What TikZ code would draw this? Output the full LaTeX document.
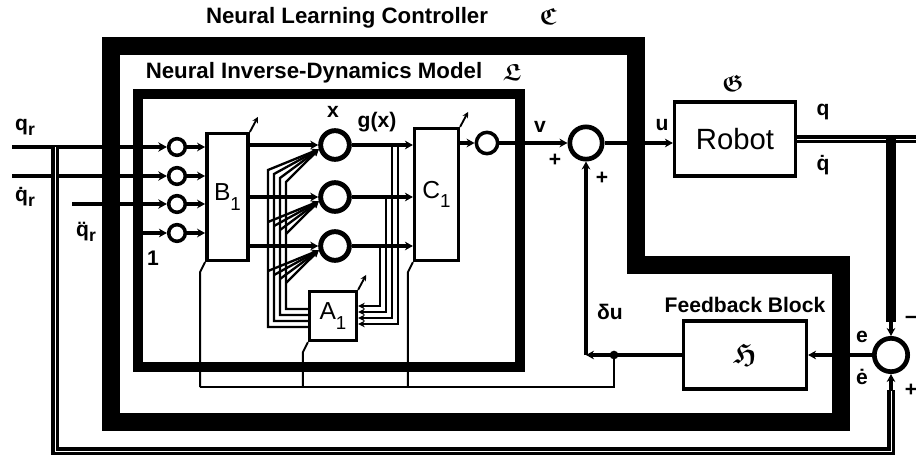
\documentclass[tikz,border=0pt]{standalone}
\usepackage{amsmath,amssymb}
\usepackage{fontspec}
\setmainfont{Liberation Sans}
\usetikzlibrary{arrows.meta,positioning,calc}
\tikzset{
  band/.style={line width=15.4pt, line join=miter},
  subband/.style={line width=8.5pt, line join=miter},
  blk/.style={rectangle, draw, line width=3pt, fill=white, inner sep=0pt},
  neuron/.style={circle, draw, line width=4.2pt, fill=white, minimum size=8.6mm, inner sep=0pt},
  unit/.style={circle, draw, line width=3pt, fill=white, minimum size=5mm, inner sep=0pt},
  sumjn/.style={circle, draw, line width=4pt, fill=white, minimum size=9.7mm, inner sep=0pt},
  sig/.style={line width=2.6pt, -{Stealth[length=2.4mm,width=2.6mm]}},
  inl/.style={line width=4pt, -{Stealth[length=2.6mm,width=2.8mm]}},
  wire/.style={line width=1.6pt},
  nest/.style={line width=2pt, -{Stealth[length=2mm,width=2mm]}},
  adapt/.style={line width=1.6pt, -{Stealth[length=1.8mm,width=1.8mm]}},
  bus/.style={line width=6pt, postaction={draw=white, line width=0.5pt}},
  fat/.style={line width=9pt},
  lbl/.style={font=\fontsize{18}{20}\selectfont\bfseries, inner sep=0pt},
  ttl/.style={font=\fontsize{19}{22}\selectfont\bfseries, inner sep=0pt},
  frk/.style={font=\fontsize{20}{22}\selectfont, inner sep=0pt},
  big/.style={font=\fontsize{21}{23}\selectfont}
}
\newcommand{\frk}[1]{$\boldsymbol{\mathfrak{#1}}$}
\newcommand{\lsub}[1]{\raisebox{-0.45ex}{\fontsize{15}{15}\selectfont\bfseries #1}}
\newcommand{\bsub}[1]{\raisebox{-0.7ex}{\fontsize{16}{16}\selectfont #1}}

\begin{document}
\begin{tikzpicture}[x=0.3mm, y=-0.3mm]
  \useasboundingbox (0,0) rectangle (916,463);

  % controller and model frames
  \draw[band] (111,46) -- (636,46) -- (636,265) -- (841,265) -- (841,422) -- (111,422) -- cycle;
  \draw[subband] (138,94) -- (520,94) -- (520,367) -- (138,367) -- cycle;
  \node[ttl] (nlc) at (347,18) {Neural Learning Controller};
  \node[frk] (cc) at (548,16) {\frk{C}};
  \node[ttl] (nidm) at (314,73) {Neural Inverse-Dynamics Model};
  \node[frk] (ll) at (512,72) {\frk{L}};

  % network
  \node[unit] (i1) at (177,147) {};
  \node[unit] (i2) at (177,176) {};
  \node[unit] (i3) at (177,204) {};
  \node[unit] (i4) at (177,233) {};
  \node[blk, big, minimum width=12.4mm, minimum height=38mm] (b1) at (227.5,197) {B\bsub{1}};
  \node[neuron] (n1) at (335,145) {};
  \node[neuron] (n2) at (335,197) {};
  \node[neuron] (n3) at (335,246) {};
  \node[blk, big, minimum width=13.1mm, minimum height=39.5mm] (c1) at (436.5,194.5) {C\bsub{1}};
  \node[blk, big, minimum width=14mm, minimum height=14.6mm] (a1) at (333,316) {A\bsub{1}};
  \node[unit, minimum size=6.4mm] (o1) at (487,143) {};

  % plant and feedback
  \node[sumjn] (sumv) at (586,143) {};
  \node[blk, font=\fontsize{25}{28}\selectfont, minimum width=36.2mm, minimum height=22.1mm] (robot) at (735,139) {Robot};
  \node[frk] (gg) at (733,83) {\frk{G}};
  \node[blk, minimum width=36.8mm, minimum height=20.3mm] (fb) at (745,355) {\fontsize{24}{26}\selectfont\frk{H}};
  \node[ttl, font=\fontsize{18}{20}\selectfont\bfseries] (fbl) at (745,305) {Feedback Block};
  \node[sumjn, minimum size=10mm] (sume) at (891,355) {};

  \coordinate (qr0) at (12,147);
  \coordinate (qdr0) at (12,176);
  \coordinate (qddr0) at (72,204);
  \coordinate (one0) at (143,233);
  \coordinate (tap) at (55,147);
  \coordinate (fbr) at (891,451);
  \coordinate (qtap) at (891,139);
  \coordinate (qend) at (916,139);

  % inputs into the model
  \draw[inl] (qr0) -- (i1);
  \draw[inl] (qdr0) -- (i2);
  \draw[inl] (qddr0) -- (i3);
  \draw[sig] (one0) -- (i4);
  \foreach \k in {1,...,4}
    \draw[sig] (i\k) -- (i\k -| b1.west);
  \foreach \k in {1,2,3} {
    \draw[sig] (b1.east |- n\k) -- (n\k);
    \draw[sig] (n\k) -- (n\k -| c1.west);
  }

  % recurrent layer A1
  \foreach \k in {0,...,3} {
    \pgfmathsetmacro{\xx}{268+6*\k}
    \pgfmathsetmacro{\yy}{327-6*\k}
    \pgfmathsetmacro{\tp}{170+4*\k}
    \draw[nest] (a1.west |- 0,\yy) -- (\xx,\yy) -- (\xx,\tp) -- (n1.195);
    \draw[nest] (\xx,{222+4*\k}) -- (n2.195);
    \draw[nest] (\xx,{271+4*\k}) -- (n3.195);
  }
  \foreach \src/\k in {n3/0, n2/1, n1/2, n1/3} {
    \pgfmathsetmacro{\xx}{380+6*\k}
    \pgfmathsetmacro{\yy}{306+6*\k}
    \draw[nest] (\src.east -| \xx,0) -- (\xx,\yy) -- (a1.east |- 0,\yy);
  }

  \draw[sig] (c1.east |- o1) -- (o1);
  \draw[sig] (o1) -- (sumv);
  \draw[sig] (sumv) -- (sumv -| robot.west);

  % robot output and error
  \draw[bus] (robot.east) -- (qend);
  \draw[fat] (qtap) -- ($(sume.north)+(0,-14)$);
  \draw[sig] ($(sume.north)+(0,-16)$) -- (sume.north);
  \draw[bus] (tap) -- (tap |- fbr) -- (fbr) -- ($(sume.south)+(0,16)$);
  \draw[sig] ($(sume.south)+(0,17)$) -- (sume.south);
  \draw[sig] (sume) -- (sume -| fb.east);

  % feedback torque and learning signal
  \coordinate (du) at (sumv |- fb);
  \draw[sig] (fb) -- (du);
  \draw[sig] (du) -- (sumv);
  \coordinate (dtap) at ($(du)+(28,0)$);
  \fill (dtap) circle[radius=1.3mm];
  \coordinate (lrn) at (614,387);
  \foreach \bx in {b1,a1,c1} {
    \coordinate (ft\bx) at ($(\bx.south west)+(-5,10)$);
    \draw[wire] (ft\bx |- lrn) -- (ft\bx) -- (\bx.south west);
    \draw[adapt] (\bx.north east) -- ++(8,-15);
  }
  \draw[wire] (dtap) -- (lrn) -- (lrn -| ftb1);

  % labels
  \node[lbl] (lqr) at (25,127) {q\lsub{r}};
  \node[lbl] (lqdr) at (25,197) {\.q\lsub{r}};
  \node[lbl] (lqddr) at (86,232) {\"q\lsub{r}};
  \node[lbl] (lone) at (153,258) {1};
  \node[lbl] (lx) at (333,112) {x};
  \node[lbl] (lgx) at (377,122) {g(x)};
  \node[lbl] (lv) at (540,127) {v};
  \node[lbl] (lpv) at (555,160) {+};
  \node[lbl] (lpd) at (602,178) {+};
  \node[lbl] (lu) at (662,125) {u};
  \node[lbl] (lq) at (823,112) {q};
  \node[lbl] (lqd) at (823,165) {\.q};
  \node[lbl] (le) at (862,337) {e};
  \node[lbl] (led) at (862,377) {\.e};
  \node[lbl] (lm) at (911,320) {−};
  \node[lbl] (lp) at (911,390) {+};
  \node[lbl] (ldu) at (610,312) {δu};
\end{tikzpicture}
\end{document}
